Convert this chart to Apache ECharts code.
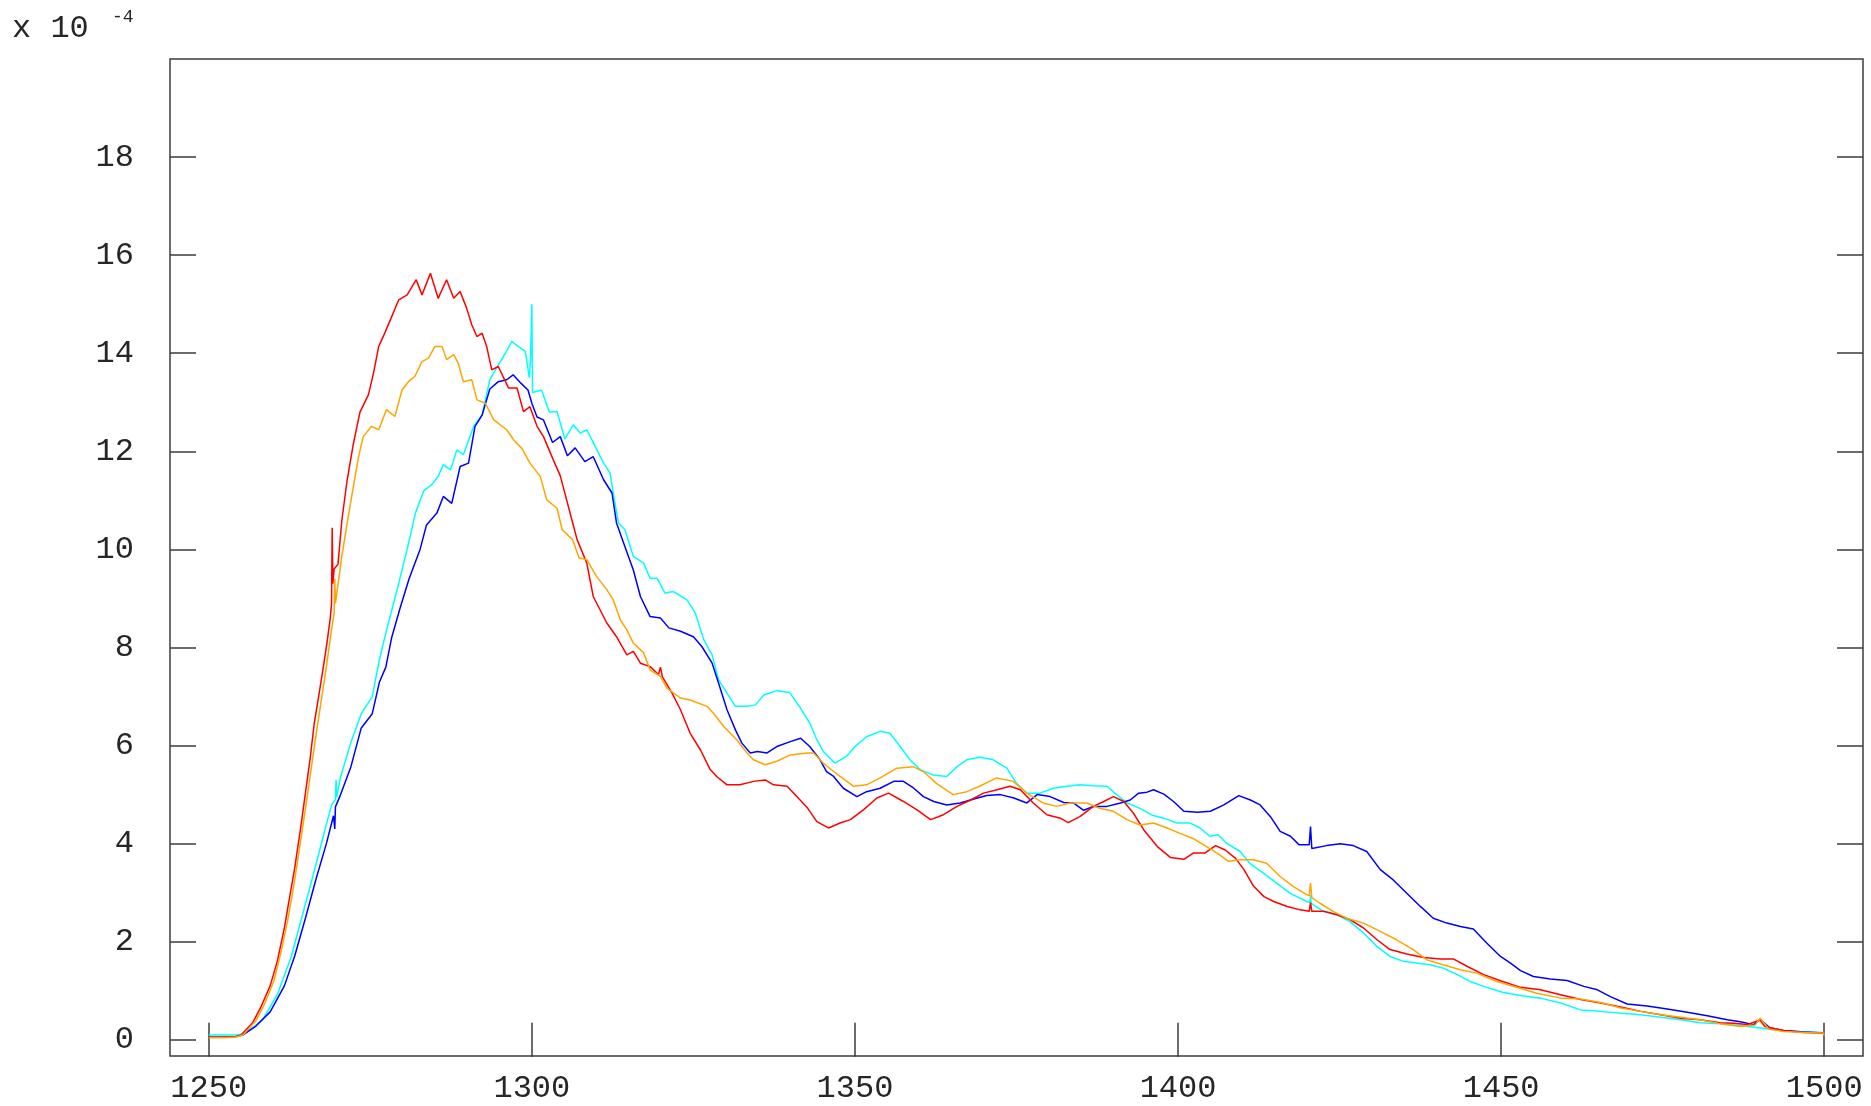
<!DOCTYPE html>
<html>
<head>
<meta charset="utf-8">
<script src="https://cdn.jsdelivr.net/npm/echarts@6/dist/echarts.min.js"></script>
<style>
html,body{margin:0;padding:0;background:#fff;}
#chart{width:1871px;height:1106px;}
</style>
</head>
<body>
<div id="chart"></div>
<script>
// ---- data (x in nm, y in units of 1e-4) ----
const xTicks = [1250, 1300, 1350, 1400, 1450, 1500];
const yTicks = [0, 2, 4, 6, 8, 10, 12, 14, 16, 18];
const scaleLabel = 'x 10';
const scaleExp = '-4';

const red = [[1250,0.05],[1252,0.05],[1254,0.06],[1255,0.1],[1256.8,0.35],[1258,0.65],[1259.5,1.1],[1260.6,1.6],[1261.7,2.28],[1262.5,2.9],[1263.3,3.5],[1264.2,4.3],[1265.0,5.07],[1265.7,5.75],[1266.3,6.43],[1267.0,7.0],[1267.7,7.58],[1268.3,8.1],[1268.8,8.6],[1269.0,8.9],[1269.1,10.44],[1269.2,9.3],[1269.4,9.6],[1270.0,9.7],[1270.6,10.6],[1271.4,11.4],[1272.4,12.17],[1273.4,12.8],[1274.7,13.15],[1275.5,13.6],[1276.3,14.14],[1277.2,14.4],[1278.1,14.68],[1279.4,15.09],[1280.7,15.19],[1282.1,15.5],[1283.0,15.19],[1284.3,15.63],[1285.5,15.12],[1286.8,15.5],[1287.9,15.12],[1288.9,15.26],[1289.9,14.92],[1290.7,14.58],[1291.5,14.34],[1292.3,14.41],[1293.0,14.14],[1293.8,13.66],[1294.8,13.73],[1296.4,13.29],[1297.7,13.29],[1298.7,12.81],[1299.7,12.91],[1300.8,12.51],[1301.8,12.3],[1303.3,11.83],[1304.4,11.5],[1305.4,11.0],[1306.2,10.6],[1307.0,10.2],[1308.5,9.72],[1309.5,9.04],[1311.6,8.5],[1313.1,8.22],[1314.7,7.85],[1315.7,7.92],[1316.8,7.68],[1318.3,7.61],[1319.6,7.45],[1319.9,7.6],[1320.2,7.4],[1321.7,7.07],[1323.0,6.73],[1324.5,6.25],[1326.1,5.91],[1327.6,5.51],[1328.6,5.37],[1330.2,5.2],[1332.2,5.2],[1334.3,5.27],[1336.1,5.3],[1337.4,5.2],[1339.5,5.17],[1341.0,4.96],[1342.7,4.72],[1344.1,4.45],[1345.9,4.32],[1347.7,4.42],[1349.3,4.49],[1351.3,4.69],[1353.4,4.93],[1355.2,5.03],[1357.5,4.86],[1359.6,4.69],[1361.7,4.49],[1363.7,4.59],[1365.8,4.76],[1367.9,4.89],[1369.9,5.03],[1372.0,5.1],[1374.0,5.17],[1375.6,5.1],[1377.6,4.83],[1379.7,4.59],[1381.8,4.52],[1383.0,4.43],[1384.8,4.55],[1386.9,4.76],[1388.5,4.86],[1390.0,4.96],[1391.6,4.86],[1393.1,4.62],[1394.7,4.28],[1396.8,3.94],[1398.8,3.72],[1400.9,3.68],[1402.4,3.81],[1404.2,3.81],[1405.8,3.96],[1407.3,3.87],[1408.9,3.7],[1410.2,3.47],[1411.7,3.13],[1413.3,2.92],[1414.8,2.82],[1416.9,2.72],[1418.9,2.65],[1420.3,2.62],[1420.5,2.8],[1420.7,2.62],[1422.5,2.62],[1424.6,2.55],[1426.6,2.45],[1428.7,2.28],[1430.8,2.04],[1432.8,1.84],[1435.4,1.75],[1438.0,1.68],[1440.6,1.65],[1442.6,1.65],[1444.7,1.5],[1447.3,1.33],[1450.0,1.2],[1453.0,1.07],[1456.1,1.02],[1459.2,0.92],[1462.3,0.82],[1465.4,0.75],[1468.5,0.67],[1471.6,0.58],[1474.7,0.51],[1477.8,0.44],[1480.8,0.41],[1483.9,0.35],[1486.0,0.34],[1488.1,0.31],[1489.5,0.38],[1490.1,0.4],[1490.8,0.27],[1493.7,0.19],[1496.8,0.15],[1499.9,0.14],[1500,0.08]];

const orange = [[1250,0.04],[1252,0.04],[1254,0.05],[1255.3,0.1],[1257.3,0.39],[1258.7,0.75],[1260.1,1.21],[1261.2,1.8],[1262.2,2.43],[1263.1,3.1],[1263.9,3.78],[1265.2,4.93],[1266.6,6.22],[1268.0,7.43],[1269.0,8.36],[1269.4,8.7],[1269.5,9.4],[1269.6,8.9],[1270.6,9.87],[1271.5,10.6],[1272.4,11.3],[1273.2,11.9],[1273.9,12.3],[1275.2,12.51],[1276.3,12.44],[1277.5,12.85],[1278.8,12.71],[1279.9,13.25],[1280.9,13.42],[1281.9,13.53],[1283.0,13.83],[1284.0,13.9],[1285.0,14.14],[1286.1,14.14],[1286.8,13.87],[1287.9,13.97],[1288.6,13.8],[1289.4,13.42],[1290.7,13.46],[1291.5,13.05],[1292.8,12.98],[1294.1,12.64],[1296.1,12.44],[1297.2,12.23],[1298.5,12.05],[1299.7,11.76],[1301.3,11.49],[1302.3,11.01],[1303.9,10.84],[1304.7,10.4],[1306.3,10.2],[1307.3,9.83],[1308.5,9.79],[1310.0,9.45],[1311.6,9.18],[1312.6,8.97],[1313.7,8.56],[1314.7,8.36],[1315.7,8.09],[1317.3,7.89],[1318.3,7.54],[1319.9,7.41],[1320.9,7.17],[1323.0,6.97],[1324.5,6.93],[1327.1,6.8],[1328.1,6.66],[1329.7,6.39],[1331.7,6.12],[1333.3,5.85],[1334.3,5.71],[1336.1,5.61],[1337.9,5.68],[1340.0,5.81],[1342.6,5.85],[1343.6,5.85],[1345.1,5.64],[1347.7,5.37],[1349.8,5.17],[1351.8,5.2],[1353.9,5.34],[1356.5,5.54],[1359.0,5.57],[1360.6,5.47],[1362.6,5.23],[1365.2,5.0],[1367.3,5.06],[1369.3,5.17],[1371.9,5.34],[1374.5,5.27],[1376.6,5.03],[1379.1,4.83],[1381.2,4.76],[1383.3,4.83],[1385.9,4.83],[1387.9,4.72],[1390.0,4.66],[1392.1,4.49],[1394.1,4.38],[1396.2,4.42],[1398.3,4.32],[1400.3,4.21],[1402.4,4.1],[1403.9,3.98],[1406.0,3.81],[1407.8,3.64],[1409.6,3.67],[1411.7,3.67],[1413.7,3.6],[1415.8,3.33],[1417.8,3.13],[1419.9,2.96],[1420.3,2.94],[1420.5,3.2],[1420.7,2.9],[1421.9,2.79],[1424.0,2.62],[1426.1,2.48],[1428.7,2.38],[1431.3,2.21],[1433.8,2.04],[1436.4,1.84],[1438.5,1.63],[1441.0,1.53],[1443.7,1.43],[1446.2,1.36],[1449.3,1.19],[1452.4,1.07],[1455.5,0.95],[1459.2,0.85],[1462.3,0.83],[1465.4,0.76],[1468.5,0.65],[1471.6,0.58],[1474.7,0.51],[1477.8,0.46],[1480.8,0.41],[1483.9,0.33],[1487.0,0.27],[1489.3,0.3],[1490.1,0.44],[1491.4,0.22],[1493.7,0.17],[1496.8,0.15],[1499.9,0.14],[1500,0.08]];

const cyan = [[1250,0.1],[1252,0.1],[1254,0.1],[1255.3,0.12],[1256.8,0.25],[1258.4,0.42],[1260.6,0.92],[1262.8,1.71],[1264.4,2.5],[1266.0,3.28],[1267.7,4.14],[1269.0,4.79],[1269.6,4.9],[1269.7,5.3],[1269.8,4.95],[1270.4,5.36],[1272.0,6.07],[1273.6,6.65],[1275.3,7.0],[1276.4,7.75],[1277.5,8.35],[1279.0,9.1],[1280.7,10.0],[1282.0,10.75],[1283.3,11.2],[1284.5,11.32],[1285.5,11.49],[1286.3,11.73],[1287.4,11.62],[1288.4,12.03],[1289.4,11.93],[1291.0,12.51],[1292.3,12.74],[1293.5,13.46],[1294.8,13.76],[1295.9,14.0],[1296.9,14.24],[1297.9,14.14],[1299.0,14.04],[1299.6,13.5],[1299.8,13.9],[1300.0,15.0],[1300.1,13.2],[1301.5,13.25],[1302.7,12.8],[1303.9,12.81],[1305.1,12.25],[1306.4,12.54],[1307.5,12.37],[1308.5,12.44],[1309.8,12.1],[1311.1,11.76],[1312.1,11.56],[1312.6,11.15],[1313.4,10.54],[1314.4,10.4],[1315.7,9.86],[1317.3,9.72],[1318.3,9.41],[1319.4,9.41],[1320.6,9.11],[1321.9,9.14],[1324.0,8.97],[1325.3,8.7],[1326.6,8.16],[1327.9,7.85],[1328.9,7.34],[1330.2,7.07],[1331.5,6.8],[1333.3,6.8],[1334.6,6.83],[1335.9,7.03],[1337.9,7.12],[1339.9,7.08],[1341.5,6.78],[1343.0,6.46],[1344.1,6.12],[1345.1,5.88],[1346.9,5.64],[1348.7,5.78],[1350.0,5.98],[1351.8,6.18],[1353.9,6.29],[1355.4,6.25],[1357.0,5.98],[1358.5,5.71],[1360.1,5.51],[1362.1,5.4],[1364.2,5.37],[1365.8,5.57],[1367.3,5.71],[1369.4,5.76],[1371.4,5.71],[1373.5,5.54],[1375.0,5.23],[1376.6,5.03],[1378.6,5.03],[1380.7,5.13],[1382.8,5.17],[1384.8,5.2],[1386.9,5.18],[1389.0,5.17],[1390.5,5.0],[1392.1,4.83],[1394.1,4.72],[1396.0,4.58],[1397.8,4.52],[1399.8,4.42],[1401.9,4.42],[1403.4,4.32],[1404.9,4.15],[1406.2,4.18],[1407.5,4.01],[1409.6,3.84],[1411.1,3.6],[1413.2,3.4],[1415.2,3.2],[1417.3,2.99],[1419.9,2.82],[1420.4,2.8],[1420.5,2.95],[1420.6,2.78],[1422.5,2.62],[1424.6,2.55],[1426.6,2.41],[1428.7,2.18],[1430.8,1.9],[1432.8,1.7],[1434.9,1.6],[1437.0,1.56],[1439.0,1.53],[1441.1,1.46],[1443.2,1.33],[1445.2,1.19],[1447.3,1.09],[1450.2,0.97],[1453.2,0.9],[1456.1,0.85],[1459.2,0.75],[1462.3,0.61],[1465.4,0.58],[1468.5,0.54],[1471.6,0.51],[1474.7,0.46],[1477.8,0.41],[1480.8,0.35],[1483.9,0.33],[1487.0,0.29],[1490.1,0.24],[1493.2,0.19],[1496.3,0.17],[1499.9,0.15],[1500,0.08]];

const blue = [[1250,0.05],[1252,0.05],[1254,0.06],[1255.3,0.1],[1257.3,0.28],[1259.5,0.57],[1261.7,1.1],[1263.3,1.71],[1265.0,2.5],[1266.6,3.28],[1268.2,4.0],[1269.3,4.57],[1269.5,4.3],[1269.6,4.75],[1270.4,5.0],[1272.0,5.57],[1273.6,6.36],[1275.3,6.65],[1276.4,7.29],[1277.4,7.6],[1278.3,8.2],[1279.6,8.8],[1281.0,9.4],[1282.7,10.0],[1283.7,10.5],[1285.3,10.74],[1286.3,11.08],[1287.6,10.94],[1288.9,11.69],[1290.2,11.76],[1291.2,12.51],[1292.3,12.74],[1293.5,13.27],[1294.8,13.42],[1296.1,13.46],[1297.1,13.56],[1298.3,13.39],[1299.4,13.25],[1300.0,12.98],[1300.8,12.7],[1301.8,12.64],[1303.2,12.18],[1304.4,12.3],[1305.5,11.91],[1306.7,12.07],[1308.2,11.79],[1309.5,11.89],[1311.1,11.42],[1312.4,11.15],[1313.1,10.54],[1314.2,10.13],[1315.7,9.58],[1316.8,9.04],[1318.3,8.63],[1319.9,8.6],[1321.2,8.4],[1323.0,8.33],[1325.0,8.22],[1326.3,8.02],[1327.9,7.68],[1328.9,7.27],[1330.2,6.73],[1331.5,6.32],[1332.5,6.05],[1333.8,5.85],[1334.9,5.88],[1336.4,5.85],[1337.9,5.98],[1340.0,6.08],[1341.6,6.15],[1343.0,5.98],[1344.6,5.71],[1345.6,5.47],[1346.7,5.37],[1348.2,5.13],[1350.3,4.96],[1351.8,5.06],[1353.9,5.13],[1356.0,5.27],[1357.5,5.27],[1359.1,5.13],[1360.6,4.96],[1362.2,4.86],[1364.2,4.79],[1366.3,4.83],[1368.4,4.91],[1370.4,4.98],[1372.5,5.0],[1374.6,4.93],[1376.6,4.83],[1378.2,5.0],[1380.2,4.96],[1382.3,4.84],[1383.8,4.83],[1385.4,4.68],[1386.9,4.76],[1389.0,4.76],[1391.1,4.83],[1392.6,4.89],[1393.9,5.03],[1395.2,5.05],[1396.2,5.1],[1397.8,5.01],[1399.3,4.86],[1400.9,4.66],[1403.0,4.64],[1405.0,4.66],[1407.1,4.79],[1409.4,4.98],[1411.2,4.89],[1412.7,4.79],[1414.3,4.55],[1415.8,4.25],[1417.4,4.15],[1418.7,3.98],[1420.3,3.98],[1420.5,4.35],[1420.7,3.9],[1421.0,3.89],[1423.0,3.96],[1425.1,4.0],[1427.1,3.96],[1429.2,3.84],[1431.3,3.47],[1433.3,3.26],[1435.4,2.99],[1437.5,2.72],[1439.5,2.48],[1441.6,2.38],[1443.7,2.31],[1445.7,2.26],[1447.8,1.97],[1449.9,1.7],[1451.5,1.56],[1453.0,1.41],[1455.0,1.29],[1457.6,1.24],[1460.2,1.21],[1462.8,1.09],[1464.9,1.02],[1466.9,0.88],[1469.5,0.73],[1472.6,0.69],[1475.7,0.63],[1478.8,0.56],[1481.9,0.49],[1485.0,0.41],[1487.0,0.37],[1489.1,0.31],[1490.1,0.42],[1491.6,0.24],[1493.7,0.19],[1496.8,0.16],[1499.9,0.14],[1500,0.08]];

// ---- chart ----
const FONT = '"Liberation Mono", "Courier New", monospace';
const TXT = '#262626';
const AX = '#3c3c3c';
const chart = echarts.init(document.getElementById('chart'), null, {renderer: 'canvas'});
const plain = v => String(v);

function xAx(pos, showLabel) {
  return {
    type: 'value', position: pos, min: 1244, max: 1506,
    axisLine: {show: false},
    splitLine: {show: false},
    axisTick: {show: true, inside: true, length: 17, customValues: xTicks, lineStyle: {color: AX, width: 1.5}},
    axisLabel: {show: showLabel, customValues: xTicks, formatter: plain, margin: 17, fontFamily: FONT, fontSize: 32, color: TXT}
  };
}
function yAx(pos, showLabel) {
  return {
    type: 'value', position: pos, min: -0.33, max: 20,
    axisLine: {show: false},
    splitLine: {show: false},
    axisTick: {show: true, inside: true, length: 26, customValues: yTicks, lineStyle: {color: AX, width: 1.5}},
    axisLabel: {show: showLabel, customValues: yTicks, formatter: plain, margin: 36, fontFamily: FONT, fontSize: 32, color: TXT}
  };
}
function line(name, data, color) {
  return {
    name: name, type: 'line', data: data, showSymbol: false, symbol: 'none',
    smooth: false, animation: false,
    lineStyle: {color: color, width: 1.5}, itemStyle: {color: color}
  };
}

chart.setOption({
  backgroundColor: '#ffffff',
  animation: false,
  grid: {left: 170, right: 8, top: 59, bottom: 50, show: true, borderColor: AX, borderWidth: 1.5, backgroundColor: 'transparent'},
  xAxis: [xAx('bottom', true), xAx('top', false)],
  yAxis: [yAx('left', true), yAx('right', false)],
  graphic: [
    {type: 'text', left: 12, top: 13, style: {text: scaleLabel, font: '32px ' + FONT, fill: TXT}},
    {type: 'text', left: 112, top: 8, style: {text: scaleExp, font: '18px ' + FONT, fill: TXT}}
  ],
  series: [
    line('cyan', cyan, '#00ffff'),
    line('blue', blue, '#0000ff'),
    line('red', red, '#ff0000'),
    line('orange', orange, '#ffa500')
  ]
});
</script>
</body>
</html>
